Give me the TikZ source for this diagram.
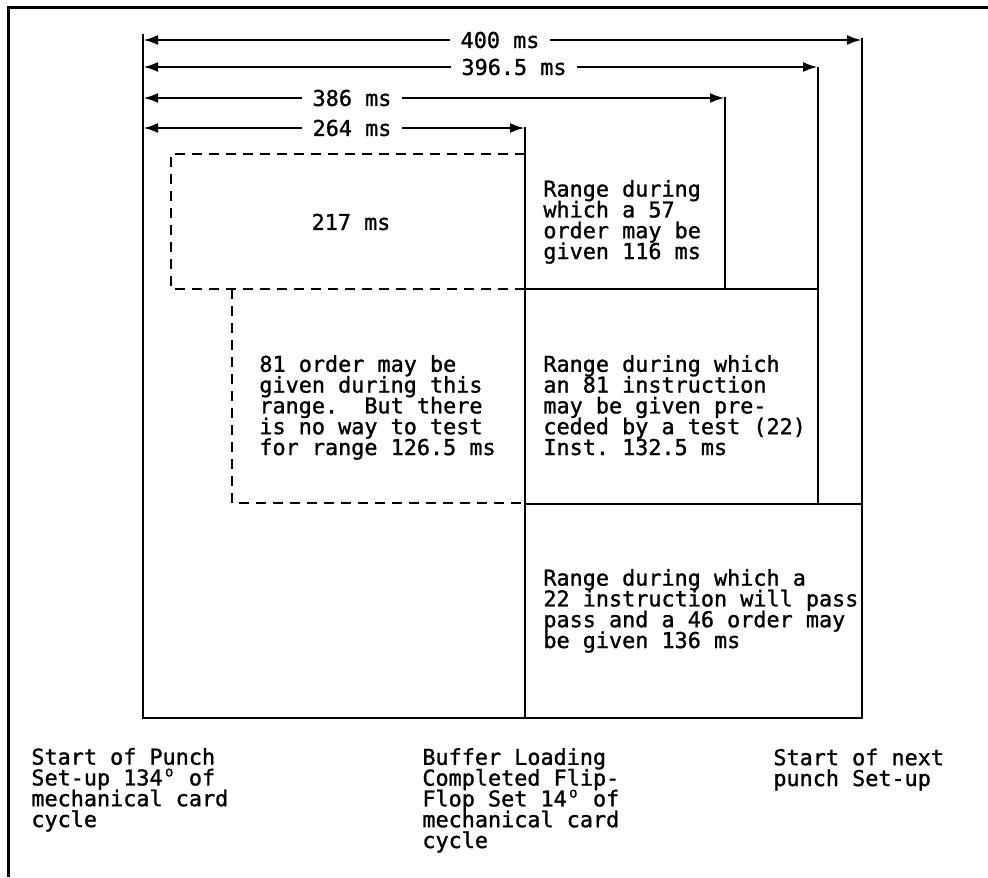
\documentclass[tikz,border=0pt]{standalone}
\usepackage{fontspec}
\setmonofont[FakeBold=1.2]{DejaVu Sans Mono}
\usepackage{tikz}
\usetikzlibrary{arrows.meta}
\newcommand{\degsign}{\makebox[0.602em][c]{\smash{\raisebox{0.75ex}{\fontsize{7}{7}\selectfont o}}}}
\newcommand{\chartfont}{\ttfamily\fontsize{10.9}{10.4}\selectfont\lineskiplimit=-6pt\relax}

\begin{document}
\begin{tikzpicture}[x=0.5pt,y=-0.5pt,>={Latex[length=7.5pt,width=5pt]},
  every node/.style={font=\chartfont,inner sep=0pt},
  frame/.style={line width=1.5pt},
  rule/.style={line width=1pt},
  dimline/.style={line width=1.4pt,->},
  dimlabel/.style={inner xsep=5pt},
  rangebox/.style={line width=1pt,dash pattern=on 5pt off 3.5pt},
  note/.style={align=left,anchor=base west}]
\useasboundingbox (0,0) rectangle (988,877);
\draw[frame] (988,8) -- (8,8) -- (8,877);
\draw[rule] (143,34) -- (143,718) -- (862,718) -- (862,38);
\draw[rule] (525,127) -- (525,718);
\draw[rule] (725,97) -- (725,289) -- (525,289);
\draw[rule] (818,67) -- (818,504) -- (525,504);
\draw[rule] (818,504) -- (862,504);
\draw[rule] (725,289) -- (818,289);
\draw[rangebox] (525,154) -- (171,154) -- (171,289) -- (525,289);
\draw[rangebox] (232,289) -- (232,503) -- (525,503);
\coordinate (l400) at (143,40); \coordinate (r400) at (862,40);
\coordinate (l396) at (143,67); \coordinate (r396) at (818,67);
\coordinate (l386) at (143,98); \coordinate (r386) at (725,98);
\coordinate (l264) at (143,128); \coordinate (r264) at (525,128);
\node[dimlabel] (t400) at (500,40) {400 ms};
\node[dimlabel] (t396) at (514,67) {396.5 ms};
\node[dimlabel] (t386) at (352,98) {386 ms};
\node[dimlabel] (t264) at (352,128) {264 ms};
\draw[dimline] (t400.west) -- (l400);
\draw[dimline] (t400.east) -- (r400);
\draw[dimline] (t396.west) -- (l396);
\draw[dimline] (t396.east) -- (r396);
\draw[dimline] (t386.west) -- (l386);
\draw[dimline] (t386.east) -- (r386);
\draw[dimline] (t264.west) -- (l264);
\draw[dimline] (t264.east) -- (r264);
\node (t217) at (351,222) {217 ms};
\node[note] (r57) at (543,259) {Range during\\which a 57\\order may be\\given 116 ms};
\node[note] (r81i) at (543,455) {Range during which\\an 81 instruction\\may be given pre-\\ceded by a test (22)\\Inst. 132.5 ms};
\node[note] (r81o) at (259,455) {81 order may be\\given during this\\range.~~But there\\is no way to test\\for range 126.5 ms};
\node[note] (r22) at (543,648) {Range during which a\\22 instruction will pass\\pass and a 46 order may\\be given 136 ms};
\node[note] (spunch) at (31,827) {Start of Punch\\Set-up 134\degsign{} of\\mechanical card\\cycle};
\node[note] (bufload) at (422,848) {Buffer Loading\\Completed Flip-\\Flop Set 14\degsign{} of\\mechanical card\\cycle};
\node[note] (snext) at (773,786) {Start of next\\punch Set-up};
\end{tikzpicture}
\end{document}
